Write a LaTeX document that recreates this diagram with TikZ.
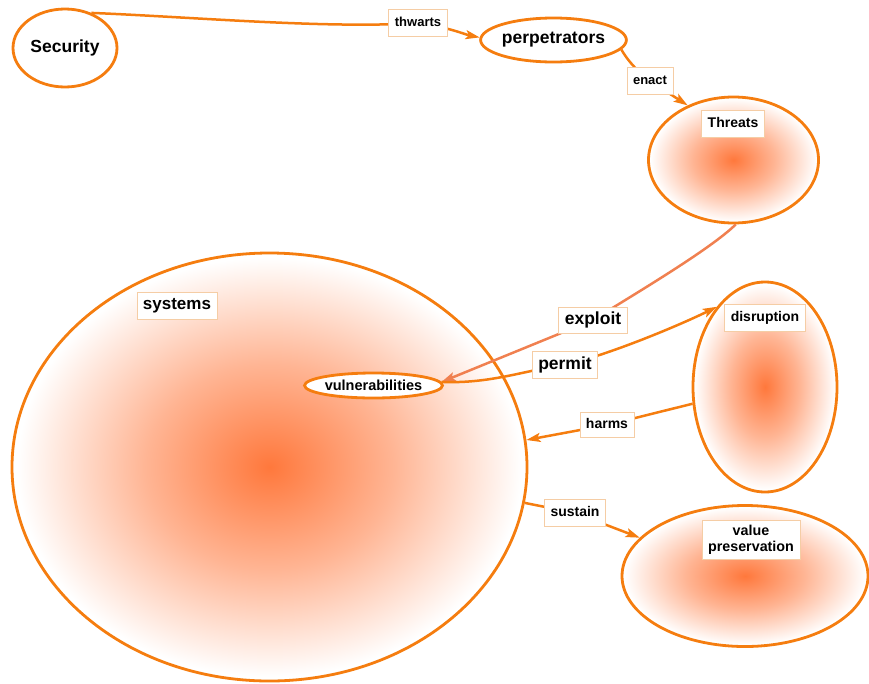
\documentclass[tikz,border=0pt]{standalone}
\usepackage{fontspec}
\setmainfont{Liberation Sans}
\usetikzlibrary{shapes.geometric,arrows.meta}

\definecolor{edgeor}{RGB}{245,125,15}
\definecolor{exploitor}{RGB}{240,128,80}
\definecolor{glowc}{RGB}{255,120,60}
\definecolor{tagline}{RGB}{245,205,165}

% soft orange glow, fading to white at the rim of the shape
\pgfdeclareradialshading{glow}{\pgfpointorigin}{%
  color(0bp)=(glowc); color(12bp)=(glowc!55!white); color(24.5bp)=(white); color(50bp)=(white)}

\pgfdeclarelayer{front}
\pgfsetlayers{main,front}

\newcommand{\fs}[1]{\bfseries\fontsize{#1}{#1}\selectfont}

\begin{document}
\begin{tikzpicture}[x=1pt,y=1pt,
  blob/.style={ellipse, draw=edgeor, line width=2.8pt, inner sep=0pt},
  glowblob/.style={blob, shading=glow},
  tagbase/.style={draw=tagline, fill=white, line width=0.8pt, inner xsep=6pt,
    text=black},
  tag/.style={tagbase, font=\fs{#1}, inner ysep=2pt, minimum height=27pt,
    text height={0.72*#1pt}, text depth={0.21*#1pt}},
  tag/.default=14,
  link/.style={draw=edgeor, line width=2.5pt},
  tip/.style={-{Stealth[length=14pt,width=9pt,inset=3pt]}},
]
\useasboundingbox (0,0) rectangle (869,-683);

% concept ellipses
\node[glowblob, minimum width=515pt, minimum height=428pt] (sys) at (269.5,-467) {};
\node[blob, fill=white, minimum width=104pt, minimum height=78pt, font=\fs{17.5}] (sec) at (65,-48) {Security};
\node[blob, fill=white, minimum width=137pt, minimum height=44pt, font=\fs{17.5}] (perp) at (553.5,-40) {perpetrators};
\node[glowblob, minimum width=170pt, minimum height=126pt] (thr) at (733.5,-160) {};
\node[blob, fill=white, minimum width=137pt, minimum height=25pt, font=\fs{14.5}] (vul) at (373.5,-385.5) {vulnerabilities};
\node[glowblob, minimum width=144pt, minimum height=210pt] (dis) at (765,-387) {};
\node[glowblob, minimum width=246pt, minimum height=141pt] (val) at (745,-576) {};

% boxed labels
\begin{pgfonlayer}{front}
\node[tag=13] (thw) at (418,-23) {thwarts};
\node[tag=13] (ena) at (650,-81) {enact};
\node[tag] (thrl) at (733,-123.5) {Threats};
\node[tag=17] (sysl) at (177,-305.5) {systems};
\node[tag=17.5, minimum height=26pt] (expl) at (593,-320) {exploit};
\node[tag=17.5] (perm) at (565,-365) {permit};
\node[tag, minimum height=25pt] (harm) at (607,-425) {harms};
\node[tag] (sust) at (575,-513) {sustain};
\node[tag] (disl) at (765,-318) {disruption};
\node[tagbase, align=center, inner ysep=5pt, font=\fs{14.3}] (vall) at (751,-540)
  {value\\[1.5pt]preservation};
\end{pgfonlayer}

% connectors
\draw[link] (sec.53) .. controls +(100,-4) and +(-90,-6) .. (thw.center);
\draw[link,tip] (thw.center) .. controls +(30,-4) and +(-15,3) .. (perp.178);
\draw[link] (perp.-8) .. controls +(8,-14) and +(-10,8) .. (ena.center);
\draw[link,tip] (ena.center) -- (thr.130);
\draw[link,draw=exploitor] (thr.-88) .. controls +(-25,-25) and +(35,22) .. (expl.center);
\draw[link,draw=exploitor,tip] (expl.center) -- (vul.3);
\draw[link] (vul.3) .. controls +(50,-2) and +(-40,-5) .. (perm.center);
\draw[link,tip] (perm.center) .. controls +(50,12) and +(-30,-15) .. (dis.121);
\draw[link] (dis.193) -- (harm.center);
\draw[link,tip] (harm.center) -- (sys.6);
\draw[link] (sys.-8.5) -- (sust.center);
\draw[link,tip] (sust.center) -- (val.160);
\end{tikzpicture}
\end{document}
